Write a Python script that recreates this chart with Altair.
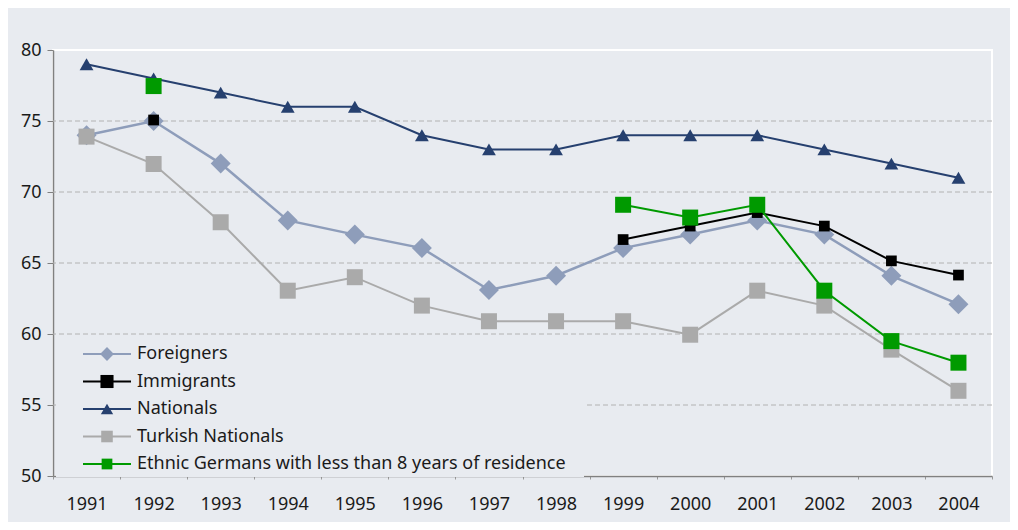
import altair as alt
import pandas as pd

years = [1991, 1992, 1993, 1994, 1995, 1996, 1997, 1998, 1999, 2000, 2001, 2002, 2003, 2004]
series_names = [
    "Foreigners",
    "Immigrants",
    "Nationals",
    "Turkish Nationals",
    "Ethnic Germans with less than 8 years of residence",
]
foreigners = [74, 75, 72, 68, 67, 66.05, 63.1, 64.1, 66.05, 67, 68, 67, 64.1, 62.1]
immigrants = [None, 75.07, None, None, None, None, None, None, 66.65, 67.6, 68.55, 67.6, 65.15, 64.15]
nationals = [79, 78, 77, 76, 76, 74, 73, 73, 74, 74, 74, 73, 72, 71]
turkish = [73.9, 71.97, 67.87, 63.05, 64, 62, 60.9, 60.9, 60.9, 59.95, 63.05, 62, 58.9, 56]
ethnic = [None, 77.46, None, None, None, None, None, None, 69.1, 68.2, 69.1, 63.05, 59.5, 57.98]
series_values = [foreigners, immigrants, nationals, turkish, ethnic]

colors = ["#8e9dba", "#000000", "#26406f", "#aaaaaa", "#009a00"]
shapes = ["diamond", "square", "triangle-up", "square", "square"]
chart_sizes = [400, 115, 190, 256, 256]
legend_sizes = [190, 115, 190, 350, 350]
line_widths = [2.5, 2, 2, 2, 2]
draw_order = [2, 0, 3, 1, 4]
grid_values = [55, 60, 65, 70, 75]
y_ticks = [50, 55, 60, 65, 70, 75, 80]

BG = "#e8ebf0"
FONT = "Noto Sans"

rows = []
for name, vals in zip(series_names, series_values):
    seg = 0
    prev_none = False
    for yr, v in zip(years, vals):
        if v is None:
            prev_none = True
            continue
        if prev_none:
            seg += 1
            prev_none = False
        rows.append({"year": str(yr), "value": v, "series": name, "seg": seg})
df = pd.DataFrame(rows)

color_scale = alt.Scale(domain=series_names, range=colors)
shape_scale = alt.Scale(domain=series_names, range=shapes)
y_scale = alt.Scale(domain=[50, 80], nice=False, zero=False)
x_scale = alt.Scale(type="band", domain=[str(y) for y in years], paddingInner=0, paddingOuter=0)

x_enc = alt.X(
    "year:O",
    scale=x_scale,
    axis=alt.Axis(
        title=None, labelAngle=0, labelFontSize=18, labelColor="#1a1a1a", labelFont=FONT,
        domainColor="#808080", domainWidth=1.5, tickColor="#999999", tickSize=3,
        tickBand="extent", labelPadding=16,
    ),
)
y_enc = alt.Y(
    "value:Q",
    scale=y_scale,
    axis=alt.Axis(
        title=None, values=y_ticks, grid=False, labelFontSize=18, labelColor="#1a1a1a",
        labelFont=FONT, domainColor="#808080", domainWidth=1.5, tickColor="#808080",
        tickSize=6, labelPadding=6,
    ),
)

base = alt.Chart(df)

grid = alt.Chart(pd.DataFrame({"v": grid_values})).mark_rule(
    color="#b2b2b2", strokeDash=[5, 3], strokeWidth=1
).encode(y=alt.Y("v:Q", scale=y_scale, title=None))

main_layers = [grid]
for i in draw_order:
    name = series_names[i]
    sub = base.transform_filter(alt.datum.series == name)
    line = sub.mark_line(strokeWidth=line_widths[i]).encode(
        x=x_enc, y=y_enc,
        color=alt.Color("series:N", scale=color_scale, legend=None),
        detail="seg:N",
    )
    pts = sub.mark_point(filled=True, opacity=1).encode(
        x=x_enc, y=y_enc,
        color=alt.Color("series:N", scale=color_scale, legend=None),
        shape=alt.Shape("series:N", scale=shape_scale, legend=None),
        size=alt.value(chart_sizes[i]),
    )
    main_layers += [line, pts]

main = alt.layer(*main_layers)

leg_df = pd.DataFrame({"series": series_names})
leg_y = alt.Y("series:N", scale=alt.Scale(type="point", domain=series_names, range=[304, 414], padding=0), axis=None)

leg_box = alt.Chart(pd.DataFrame({"a": [0]})).mark_rect(color=BG).encode(
    x=alt.value(3), x2=alt.value(531), y=alt.value(287), y2=alt.value(427)
)
leg_rule = alt.Chart(leg_df).mark_rule(strokeWidth=2).encode(
    x=alt.value(30), x2=alt.value(78), y=leg_y,
    color=alt.Color("series:N", scale=color_scale, legend=None),
)
leg_pts = alt.Chart(leg_df).mark_point(filled=True, opacity=1).encode(
    x=alt.value(54), y=leg_y,
    color=alt.Color("series:N", scale=color_scale, legend=None),
    shape=alt.Shape("series:N", scale=shape_scale, legend=None),
    size=alt.Size("series:N", scale=alt.Scale(domain=series_names, range=legend_sizes), legend=None),
)
leg_text = alt.Chart(leg_df).mark_text(
    align="left", baseline="middle", fontSize=18, font=FONT, color="#1a1a1a"
).encode(x=alt.value(84), y=leg_y, text="series:N")

legend = alt.layer(leg_box, leg_rule, leg_pts, leg_text)

chart = (
    alt.layer(main, legend)
    .resolve_scale(y="independent")
    .properties(
        width=939,
        height=426,
        background=BG,
        padding={"left": 45, "top": 42, "right": 18, "bottom": 46},
        autosize=alt.AutoSizeParams(type="none"),
    )
    .configure_view(stroke="#ffffff", strokeWidth=2, fill=BG)
)

chart.save("out.html", embed_options={"renderer": "svg", "actions": False})
